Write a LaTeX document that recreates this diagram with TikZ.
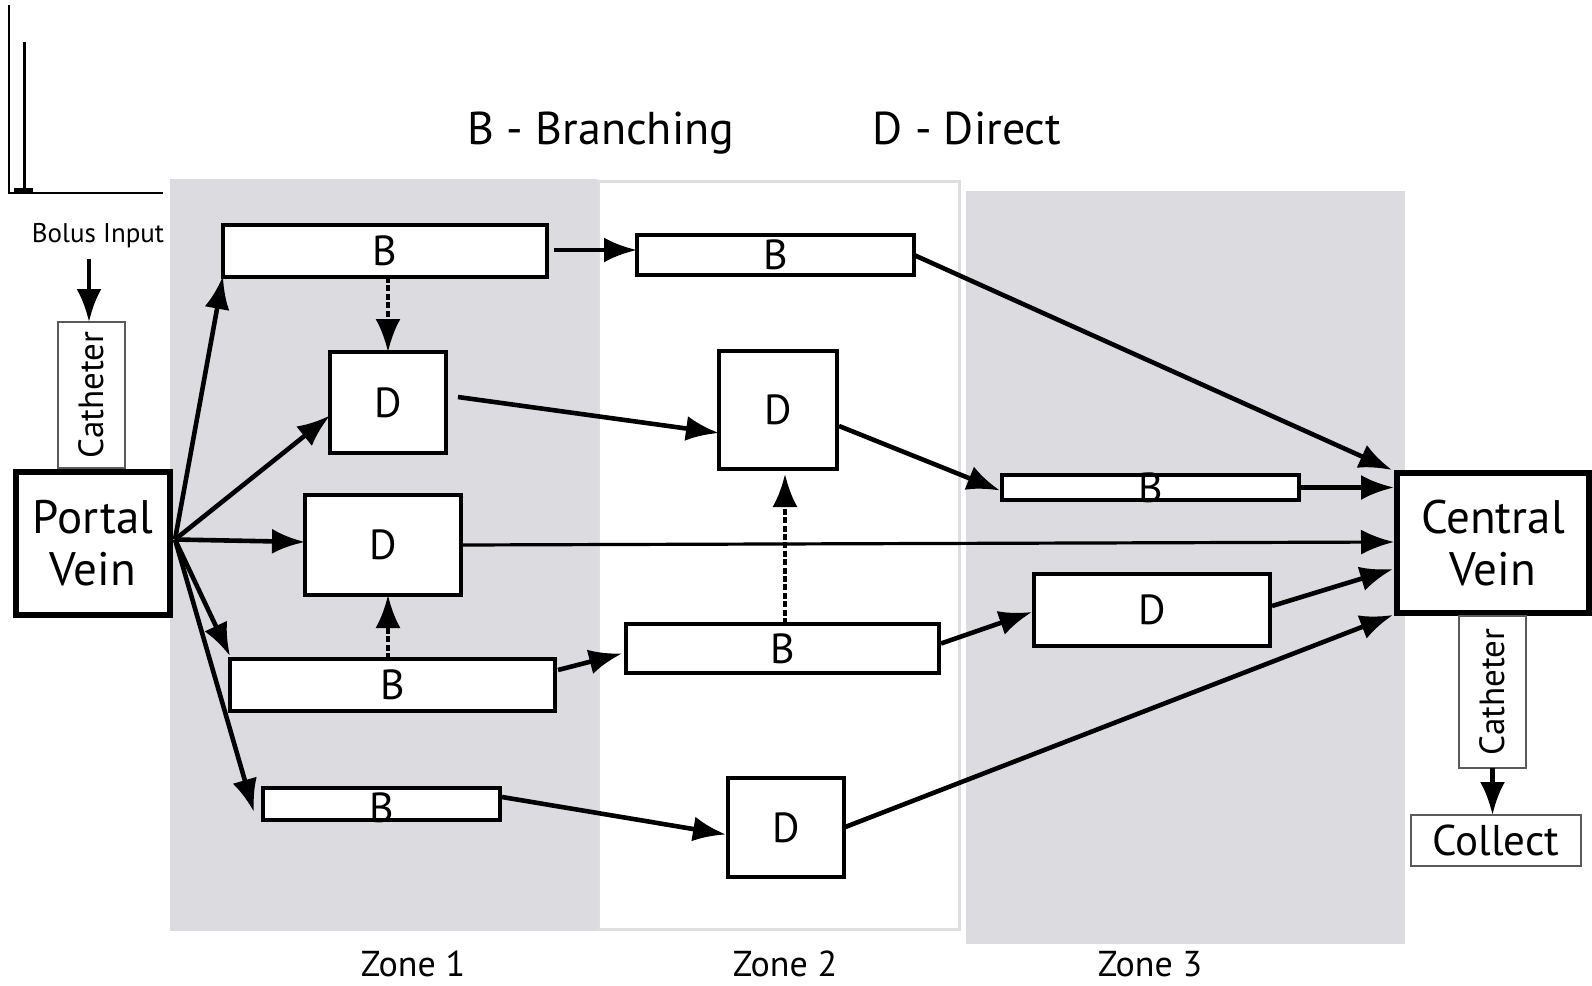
\documentclass[tikz,border=0pt]{standalone}
\usepackage{fontspec}
\setmainfont{PT Sans}
\usetikzlibrary{arrows.meta,calc}

\definecolor{zonefill}{RGB}{220,219,223}
\definecolor{zoneline}{RGB}{222,222,224}
\definecolor{cathline}{RGB}{90,90,90}

\tikzset{
  px/.style 2 args={minimum width=#1*0.5pt, minimum height=#2*0.5pt},
  box/.style={draw=black, line width=2pt, fill=white, inner sep=0pt, outer sep=0pt},
  vein/.style={draw=black, line width=3.2pt, fill=white, inner sep=0pt, outer sep=0pt,
               align=center, font=\fontsize{23.5}{26}\selectfont},
  tube/.style={draw=cathline, line width=1.3pt, fill=white, inner sep=0pt, outer sep=0pt},
  boxtext/.style={inner sep=0pt, font=\fontsize{21}{24}\selectfont},
  title/.style={inner sep=0pt, anchor=base, font=\fontsize{23}{26}\selectfont},
  zonelabel/.style={inner sep=0pt, anchor=base, font=\fontsize{18}{21}\selectfont},
  tip/.style={-{Latex[length=16.5pt,width=12.5pt]}},
  flow/.style={line width=2.3pt, tip},
  flowdash/.style={line width=2pt, dash pattern=on 3pt off 1.2pt, tip},
}

\begin{document}
\begin{tikzpicture}[x=0.5pt, y=-0.5pt]
\useasboundingbox (0,0) rectangle (1592,986);

% acinus zones
\fill[zonefill] (170,179) rectangle (597,931);
\draw[zoneline, line width=1.5pt, fill=white] (598,181) rectangle (959,929);
\fill[zonefill] (966,191) rectangle (1405,944);

% bolus input profile
\draw[line width=1pt] (9,5) -- (9,193) -- (163,193);
\draw[line width=1.5pt] (24,42) -- (24,190);
\draw[line width=2.2pt] (14,190.5) -- (33,190.5);

% legend and zone labels
\node[title] (legB) at (601,144) {B - Branching};
\node[title] (legD) at (967,144) {D - Direct};
\node[zonelabel] (z1) at (413,976) {Zone 1};
\node[zonelabel] (z2) at (785,976) {Zone 2};
\node[zonelabel] (z3) at (1150,976) {Zone 3};

% inlet side
\node[inner sep=0pt, anchor=base, font=\fontsize{13.5}{16}\selectfont] (bolus) at (98,242) {Bolus Input};
\node[tube, px={146}{67}, rotate=90, font=\fontsize{17.5}{20}\selectfont] (cathIn) at (91.5,395) {Catheter};
\node[vein, px={154}{143}] (portal) at (93,543.5) {Portal\\Vein};

% outlet side
\node[vein, px={192}{140}] (central) at (1493,543) {Central\\Vein};
\node[tube, px={152}{67}, rotate=90, font=\fontsize{17.5}{20}\selectfont] (cathOut) at (1492.5,692) {Catheter};
\node[tube, px={170}{51}, font=\fontsize{21.5}{24}\selectfont] (collect) at (1496,840.5) {Collect};

% branching (B) and direct (D) segments
\node[box, px={324}{52}] (B1) at (385,251) {};
\node[box, px={277}{40}] (B2) at (775.5,255) {};
\node[box, px={325}{52}] (B3) at (392.5,685) {};
\node[box, px={313}{49}] (B4) at (782.5,648.5) {};
\node[box, px={237}{32}] (B5) at (381.5,804) {};
\node[box, px={297}{25}] (B6) at (1150.5,487.5) {};
\node[box, px={116}{101}] (D1) at (388,402.5) {};
\node[box, px={118}{118}] (D2) at (778,410) {};
\node[box, px={156}{100}] (D3) at (383,545) {};
\node[box, px={236}{72}] (D4) at (1152,610) {};
\node[box, px={116}{99}] (D5) at (786,827.5) {};

\node[boxtext] (B1t) at (B1) {B};
\node[boxtext] (B2t) at (B2) {B};
\node[boxtext] (B3t) at (B3) {B};
\node[boxtext] (B4t) at (B4) {B};
\node[boxtext] (B5t) at ($(B5)+(0,4)$) {B};
\node[boxtext] (B6t) at (B6) {B};
\node[boxtext] (D1t) at (D1) {D};
\node[boxtext] (D2t) at (D2) {D};
\node[boxtext] (D3t) at (D3) {D};
\node[boxtext] (D4t) at (D4) {D};
\node[boxtext] (D5t) at (D5) {D};

% catheter connections
\coordinate (bolusFoot) at (89,259);
\draw[flow] (bolusFoot) -- (bolusFoot |- cathIn.east);
\draw[flow] (cathOut.west) -- (cathOut.west |- collect.north);

% inflow fan from the portal vein
\coordinate (fan) at ($(portal.east)+(5,-4)$);
\draw[flow] (fan) -- ($(B1.south west)+(0,-1)$);
\draw[flow] (fan) -- ($(D1.west)+(0,13)$);
\draw[flow] (fan) -- ($(D3.west)+(0,-3)$);
\draw[flow] (fan) -- ($(B3.north west)+(0,-3)$);
\draw[flow] (fan) -- ($(B5.west)+(-9,8)$);

% transfers between segments
\draw[flow] ($(B1.east)+(7,-1)$) -- ($(B2.west)+(0,-5)$);
\draw[flow] ($(D1.east)+(12,-5.5)$) -- ($(D2.west)+(0,23)$);
\draw[flow] ($(B3.east)+(3,-15)$) -- ($(B4.west)+(-4,5)$);
\draw[flow] ($(B5.east)+(2,-7)$) -- ($(D5.west)+(-2,7)$);
\draw[flow] ($(D2.east)+(2,16)$) -- ($(B6.west)+(-2,3)$);
\draw[flow] ($(B4.east)+(2,-5)$) -- ($(D4.west)+(-2,2)$);

% dashed cross-links
\draw[flowdash] (D1.north |- B1.south) -- (D1.north);
\coordinate (b3up) at ($(B3.north)+(-4.5,0)$);
\draw[flowdash] (b3up) -- (b3up |- D3.south);
\coordinate (b4up) at ($(B4.north)+(2.5,0)$);
\draw[flowdash] (b4up) -- ($(b4up |- D2.south)+(0,5)$);

% outflow to the central vein
\draw[flow] (B2.east) -- ($(central.north west)+(-5,-3)$);
\draw[flow] ($(B6.east)+(2,0)$) -- ($(B6.east -| central.west)+(-3,0)$);
\draw[line width=1.6pt, tip] (D3.east) -- ($(D3.east -| central.west)+(-3,-3)$);
\draw[flow] ($(D4.east)+(2,-4)$) -- ($(central.west)+(-4,26)$);
\draw[flow] (D5.east) -- ($(central.south west)+(-4,2)$);
\end{tikzpicture}
\end{document}
